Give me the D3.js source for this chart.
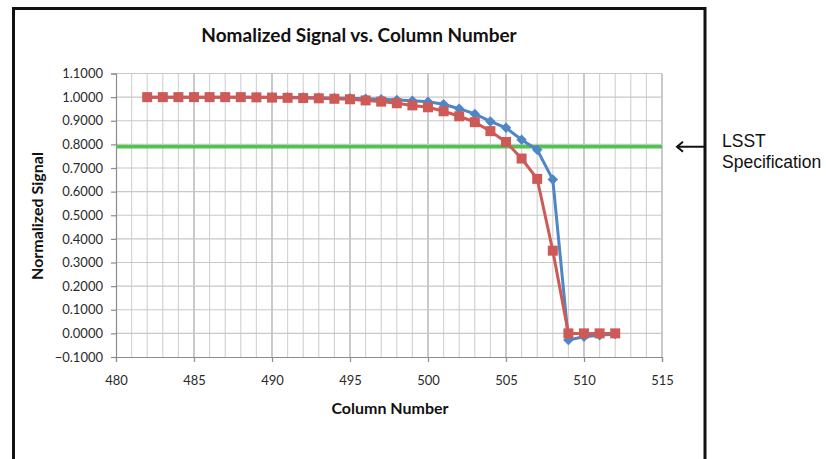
<!DOCTYPE html>
<html><head><meta charset="utf-8">
<script src="https://cdn.jsdelivr.net/npm/d3@7"></script>
<style>body{margin:0;background:#fff}svg{display:block}</style>
</head><body>
<svg id="c" width="826" height="459"></svg>
<script>
const columns = [482,483,484,485,486,487,488,489,490,491,492,493,494,495,496,497,498,499,500,501,502,503,504,505,506,507,508,509,510,511,512];
const blueValues = [1.000,1.000,1.000,1.000,1.000,1.000,1.000,0.999,0.999,0.999,0.998,0.997,0.996,0.995,0.993,0.991,0.988,0.985,0.980,0.970,0.951,0.929,0.897,0.870,0.820,0.777,0.651,-0.028,-0.014,-0.008,-0.003];
const redValues  = [1.000,1.000,1.000,1.000,1.000,1.000,1.000,0.999,0.998,0.997,0.996,0.995,0.993,0.991,0.986,0.981,0.974,0.965,0.957,0.940,0.919,0.894,0.856,0.810,0.740,0.654,0.350,0.000,0.000,0.000,0.000];
const specValue = 0.79;
const xTicks = [480,485,490,495,500,505,510,515];
const yTicks = [-0.1,0,0.1,0.2,0.3,0.4,0.5,0.6,0.7,0.8,0.9,1.0,1.1];
const titleText = "Nomalized Signal vs. Column Number";
const xTitle = "Column Number";
const yTitle = "Normalized Signal";
const specLabel = ["LSST","Specification"];

const svg = d3.select("#c");
const L=116, R=662, T=73.5, B=357;
const x = d3.scaleLinear().domain([480,515]).range([L,R]);
const y = d3.scaleLinear().domain([-0.1,1.1]).range([B,T]);

// frame
svg.append("path").attr("d",`M13.5,470 V8.5 H705 V470`).attr("fill","none").attr("stroke","#111").attr("stroke-width",3);

// grid
const g = svg.append("g");
g.selectAll("line.vx").data(d3.range(481,516)).join("line")
  .attr("x1",d=>x(d)).attr("x2",d=>x(d)).attr("y1",T).attr("y2",B)
  .attr("stroke",d=>d%5===0?"#a6a6a6":"#d4d4d4").attr("stroke-width",1.2);
g.selectAll("line.hy").data(yTicks.slice(1)).join("line")
  .attr("x1",L).attr("x2",R).attr("y1",d=>y(d)).attr("y2",d=>y(d))
  .attr("stroke","#c8c8c8").attr("stroke-width",1.2);

// axes
const font = "Lato, 'Open Sans', sans-serif";
const ya = svg.append("g").attr("transform",`translate(${L},0)`)
  .call(d3.axisLeft(y).tickValues(yTicks).tickFormat(d3.format(".4f")).tickSize(5).tickPadding(8));
const xa = svg.append("g").attr("transform",`translate(0,${B})`)
  .call(d3.axisBottom(x).tickValues(xTicks).tickFormat(d3.format("d")).tickSize(5).tickPadding(14));
[ya,xa].forEach(a=>{
  a.select(".domain").attr("stroke","#8c8c8c").attr("stroke-width",1.2);
  a.selectAll(".tick line").attr("stroke","#8c8c8c").attr("stroke-width",1.2);
  a.selectAll("text").attr("font-family",font).attr("font-size",13).attr("fill","#2a2a2a");
});
ya.selectAll(".tick text").text(d=>d3.format(".4f")(d).replace("-0.0000","0.0000"));

// spec line
svg.append("line").attr("x1",L).attr("x2",R).attr("y1",y(specValue)).attr("y2",y(specValue))
  .attr("stroke","#4cc64c").attr("stroke-width",3.5);

// series
const line = d3.line().x((d,i)=>x(columns[i])).y(d=>y(d));
svg.append("path").datum(blueValues).attr("d",line).attr("fill","none").attr("stroke","#4f86c6").attr("stroke-width",3);
svg.append("g").selectAll("path").data(blueValues).join("path")
  .attr("d",d3.symbol(d3.symbolDiamond2, 70))
  .attr("transform",(d,i)=>`translate(${x(columns[i])},${y(d)})`).attr("fill","#4f86c6");
svg.append("path").datum(redValues).attr("d",line).attr("fill","none").attr("stroke","#cd5a56").attr("stroke-width",3);
svg.append("g").selectAll("rect").data(redValues).join("rect")
  .attr("x",(d,i)=>x(columns[i])-5).attr("y",d=>y(d)-5).attr("width",10).attr("height",10).attr("fill","#cd5a56");

// titles
svg.append("text").attr("x",359).attr("y",42).attr("text-anchor","middle").attr("font-family",font)
  .attr("font-weight","bold").attr("font-size",19).attr("fill","#111").text(titleText);
svg.append("text").attr("x",390).attr("y",414).attr("text-anchor","middle").attr("font-family",font)
  .attr("font-weight","bold").attr("font-size",16).attr("fill","#111").text(xTitle);
svg.append("text").attr("transform","translate(43,216) rotate(-90)").attr("text-anchor","middle").attr("font-family",font)
  .attr("font-weight","bold").attr("font-size",16).attr("fill","#111").text(yTitle);

// annotation arrow
const ay = y(specValue);
svg.append("line").attr("x1",677).attr("x2",705).attr("y1",ay).attr("y2",ay).attr("stroke","#111").attr("stroke-width",2);
svg.append("path").attr("d",`M683,${ay-5} L677,${ay} L683,${ay+5}`).attr("fill","none").attr("stroke","#111").attr("stroke-width",2);
svg.append("text").attr("x",722).attr("y",147).attr("font-family","'Liberation Sans', Arial, sans-serif")
  .attr("font-size",17.5).attr("fill","#111").text(specLabel[0]);
svg.append("text").attr("x",722).attr("y",168).attr("font-family","'Liberation Sans', Arial, sans-serif")
  .attr("font-size",17.5).attr("fill","#111").text(specLabel[1]);
</script>
</body></html>
